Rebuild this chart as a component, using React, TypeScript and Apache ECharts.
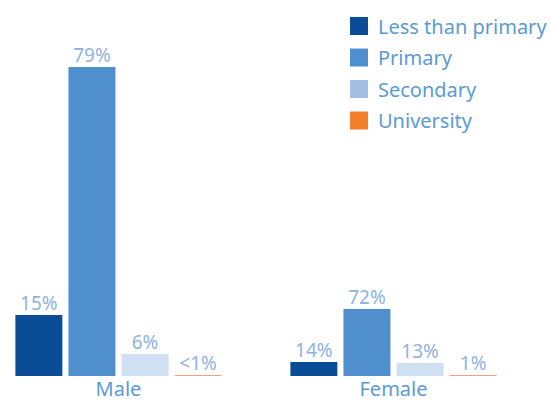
import React, { useEffect, useRef } from "react";
import * as echarts from "echarts";

const categories = ["Male", "Female"];
const seriesNames = ["Less than primary", "Primary", "Secondary", "University"];
// Bar heights (relative counts)
const lessThanPrimary = [61, 14];
const primary = [309, 67];
const secondary = [22, 13];
const university = [1, 1];
// Percentage labels shown above the bars
const lessThanPrimaryLabels = ["15%", "14%"];
const primaryLabels = ["79%", "72%"];
const secondaryLabels = ["6%", "13%"];
const universityLabels = ["<1%", "1%"];

const barColors = ["#0b4c97", "#4f8fcd", "#cfe0f2", "#f5a27c"];
const legendColors = ["#0b4c97", "#4f8fcd", "#a4bfe3", "#f47f2a"];

export default function App() {
  const ref = useRef<HTMLDivElement>(null);
  useEffect(() => {
    if (!ref.current) return;
    document.body.style.margin = "0";
    const chart = echarts.init(ref.current, undefined, { renderer: "svg" });
    const values = [lessThanPrimary, primary, secondary, university];
    const labels = [lessThanPrimaryLabels, primaryLabels, secondaryLabels, universityLabels];
    const font = "Noto Sans";
    chart.setOption({
      animation: false,
      grid: { left: -19, right: 20, top: 25, bottom: 25, outerBoundsMode: "none", containLabel: false },
      legend: {
        orient: "vertical",
        left: 350,
        top: 16,
        padding: 0,
        itemWidth: 18,
        itemHeight: 18,
        itemGap: 11.5,
        icon: "rect",
        textStyle: { color: "#5b9bd5", fontSize: 20, lineHeight: 20, fontFamily: font, padding: [0, 0, 0, 5] },
        data: seriesNames.map((n, i) => ({ name: n, itemStyle: { color: legendColors[i] } })),
      },
      xAxis: {
        type: "category",
        data: categories,
        axisLine: { show: false },
        axisTick: { show: false },
        axisLabel: { color: "#5b9bd5", fontSize: 20, lineHeight: 19, fontFamily: font, margin: 3 },
      },
      yAxis: {
        type: "value",
        min: 0,
        max: 351,
        show: false,
        splitLine: { show: false },
      },
      series: seriesNames.map((n, i) => ({
        name: n,
        type: "bar",
        data: values[i],
        barGap: "13%",
        barCategoryGap: "25%",
        itemStyle: { color: barColors[i] },
        label: {
          show: true,
          position: "top",
          distance: 3,
          color: "#8fb3e0",
          fontSize: 19,
          fontFamily: font,
          formatter: (p: any) => labels[i][p.dataIndex],
        },
      })),
    });
    return () => chart.dispose();
  }, []);
  return <div ref={ref} style={{ width: 551, height: 401 }} />;
}
